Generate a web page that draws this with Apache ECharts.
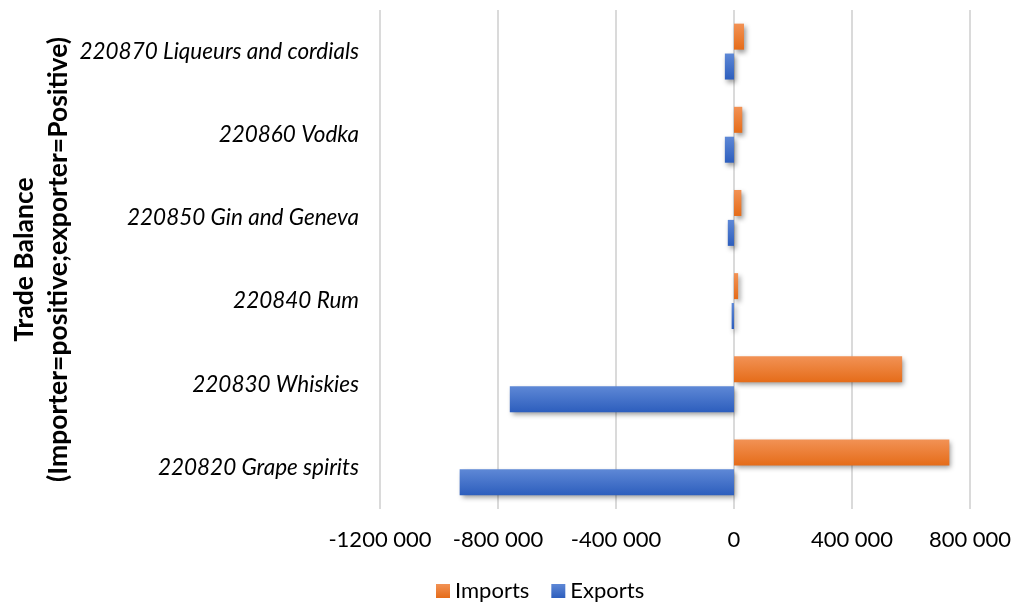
<!DOCTYPE html>
<html><head><meta charset="utf-8">
<script src="https://cdn.jsdelivr.net/npm/echarts@6/dist/echarts.min.js"></script>
<style>html,body{margin:0;padding:0;background:#fff}#c{width:1013px;height:603px}</style>
</head><body><div id="c"></div>
<script>
var categories = ['220820 Grape spirits','220830 Whiskies','220840 Rum','220850 Gin and Geneva','220860 Vodka','220870 Liqueurs and cordials'];
var imports = [730000, 570000, 14000, 25000, 28000, 34000];
var exports = [-930000, -760000, -8000, -21000, -31000, -31000];
var seriesNames = ['Imports','Exports'];
var xMin = -1200000, xMax = 800000, xStep = 400000;
var axisTitle = 'Trade Balance\n(Importer=positive;exporter=Positive)';

function fmt(v){
  if (v === 0) return '0';
  var s = v < 0 ? '-' : '';
  var a = Math.abs(v);
  var th = Math.floor(a/1000), r = a % 1000;
  return s + th + ' ' + ('00' + r).slice(-3);
}
var F = 'Lato, "Open Sans", sans-serif';
function grad(c1, c2){
  return {type:'linear', x:0, y:0, x2:0, y2:1, colorStops:[{offset:0,color:c1},{offset:1,color:c2}]};
}
var chart = echarts.init(document.getElementById('c'), null, {renderer:'canvas'});
chart.setOption({
  animation:false,
  backgroundColor:'#fff',
  textStyle:{fontFamily:F},
  grid:{left:380, right:43, top:10, bottom:94, containLabel:false, outerBoundsMode:'none'},
  legend:{
    data:seriesNames, left:431, top:575, icon:'rect', itemWidth:14, itemHeight:14, itemGap:22,
    textStyle:{fontFamily:F, fontSize:22, color:'#000'}
  },
  xAxis:{
    type:'value', min:xMin, max:xMax, interval:xStep,
    axisLine:{show:false}, axisTick:{show:false},
    axisLabel:{formatter:fmt, fontFamily:F, fontSize:22, color:'#000', margin:20},
    splitLine:{show:true, lineStyle:{color:'#d6d6d6', width:1.8}}
  },
  yAxis:{
    type:'category', data:categories,
    axisLine:{show:false}, axisTick:{show:false},
    axisLabel:{fontFamily:F, fontSize:22.5, fontStyle:'italic', color:'#000', margin:21},
    name:axisTitle, nameLocation:'middle', nameRotate:90, nameGap:305, nameMoveOverlap:false,
    nameTextStyle:{fontFamily:F, fontSize:26.5, fontWeight:'bold', color:'#000', lineHeight:34, align:'center'}
  },
  series:[
    {name:'Imports', type:'bar', data:imports, barWidth:26, barGap:'15%',
     itemStyle:{color:grad('#F29255','#E56C19'), shadowColor:'rgba(0,0,0,0.4)', shadowBlur:5, shadowOffsetX:2, shadowOffsetY:3}},
    {name:'Exports', type:'bar', data:exports, barWidth:26, barGap:'15%',
     itemStyle:{color:grad('#5E88D6','#2D5EBD'), shadowColor:'rgba(0,0,0,0.4)', shadowBlur:5, shadowOffsetX:2, shadowOffsetY:3}}
  ]
});
</script></body></html>
